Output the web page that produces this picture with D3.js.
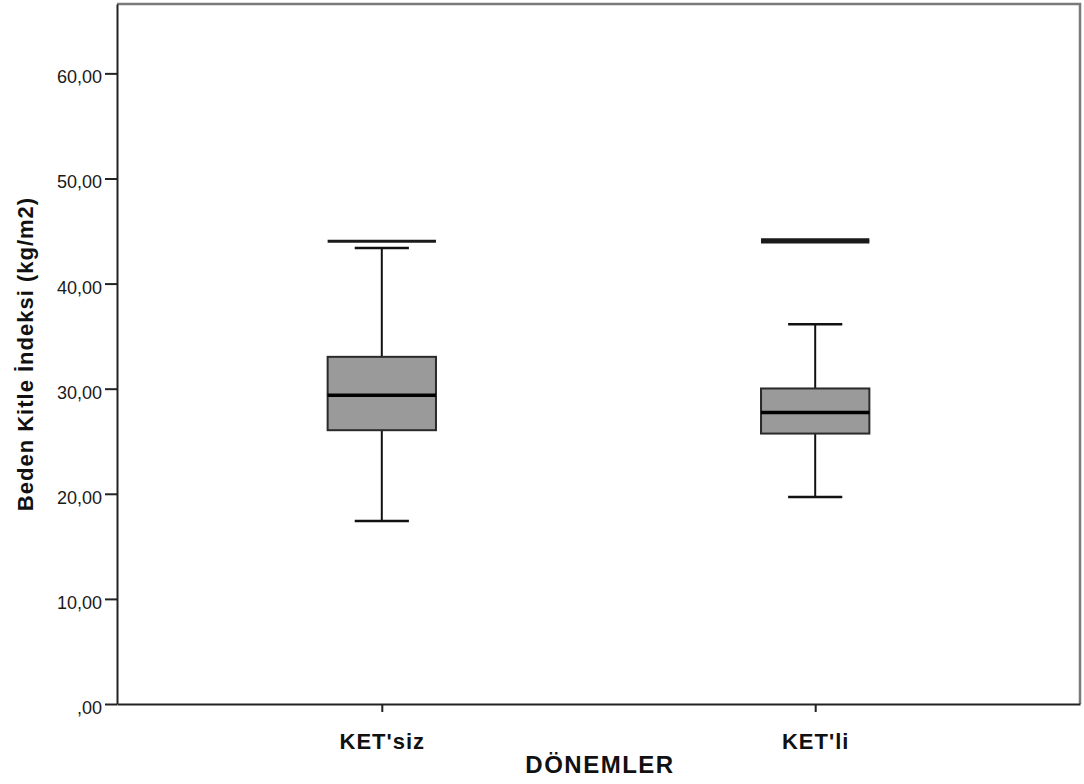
<!DOCTYPE html>
<html>
<head>
<meta charset="utf-8">
<script src="https://cdn.jsdelivr.net/npm/d3@7"></script>
<style>
  body { margin: 0; background: #fff; }
  svg { display: block; }
</style>
</head>
<body>
<svg id="svg" width="1084" height="784"></svg>
<script>
// box plot values (kg/m2)
let groups = ["KET'siz", "KET'li"];
let lowWhisker = [17.41, 19.70];
let q1 = [26.05, 25.73];
let medians = [29.38, 27.73];
let q3 = [33.03, 30.02];
let highWhisker = [43.38, 36.14];
let outliers = [[44.02], [43.95, 44.17]];
let yTicks = [0, 10, 20, 30, 40, 50, 60];

let svg = d3.select('#svg');
let padding = { t: 4, r: 4, b: 80, l: 117 };
let svgWidth = +svg.attr('width');
let svgHeight = +svg.attr('height');
let chartWidth = svgWidth - padding.l - padding.r;
let chartHeight = svgHeight - padding.t - padding.b;

let chartG = svg.append('g')
    .attr('transform', 'translate(' + [padding.l, padding.t] + ')');

let yScale = d3.scaleLinear()
    .domain([0, 66.6])
    .range([chartHeight, 0]);

let xScale = d3.scalePoint()
    .domain(groups)
    .range([0, chartWidth])
    .padding(0.611);

let boxWidth = xScale.step() * 0.25;

// frame (top and right in grey)
chartG.append('path')
    .attr('d', 'M0,0H' + chartWidth + 'V' + chartHeight)
    .attr('fill', 'none')
    .attr('stroke', '#7a7a7a')
    .attr('stroke-width', 2.5);

// y axis
let yAxis = d3.axisLeft(yScale)
    .tickValues(yTicks)
    .tickSize(12)
    .tickSizeOuter(0)
    .tickFormat((d) => d === 0 ? ',00' : d3.format('.2f')(d).replace('.', ','));

let yG = chartG.append('g').call(yAxis);
yG.select('.domain').attr('stroke', '#222').attr('stroke-width', 2);
yG.selectAll('.tick line').attr('stroke', '#222').attr('stroke-width', 2);
yG.selectAll('.tick text')
    .attr('x', -15)
    .attr('dy', '9.5')
    .attr('fill', '#1a1a1a')
    .attr('font-family', '"Liberation Sans", Arial, sans-serif')
    .attr('font-size', '18px');

// x axis
let xAxis = d3.axisBottom(xScale).tickSize(8).tickSizeOuter(0);
let xG = chartG.append('g')
    .attr('transform', 'translate(0,' + chartHeight + ')')
    .call(xAxis);
xG.select('.domain').attr('stroke', '#222').attr('stroke-width', 2);
xG.selectAll('.tick line').attr('stroke', '#222').attr('stroke-width', 2);
xG.selectAll('.tick text')
    .attr('y', 45)
    .attr('dy', 0)
    .attr('fill', '#111')
    .attr('font-family', '"Liberation Sans", Arial, sans-serif')
    .attr('font-weight', 'bold')
    .attr('font-size', '22px')
    .attr('letter-spacing', '1px');

// boxes
let boxes = chartG.selectAll('.box')
    .data(groups)
    .enter()
    .append('g')
    .attr('class', 'box')
    .attr('transform', (d) => 'translate(' + xScale(d) + ',0)');

// whisker stems
boxes.append('line')
    .attr('x1', 0).attr('x2', 0)
    .attr('y1', (d, i) => yScale(highWhisker[i]))
    .attr('y2', (d, i) => yScale(lowWhisker[i]))
    .attr('stroke', '#111')
    .attr('stroke-width', 2);

// whisker caps
[highWhisker, lowWhisker].forEach((arr) => {
    boxes.append('line')
        .attr('x1', -boxWidth / 4).attr('x2', boxWidth / 4)
        .attr('y1', (d, i) => yScale(arr[i]))
        .attr('y2', (d, i) => yScale(arr[i]))
        .attr('stroke', '#111')
        .attr('stroke-width', 2.5);
});

boxes.append('rect')
    .attr('x', -boxWidth / 2)
    .attr('width', boxWidth)
    .attr('y', (d, i) => yScale(q3[i]))
    .attr('height', (d, i) => yScale(q1[i]) - yScale(q3[i]))
    .attr('fill', '#9a9a9a')
    .attr('stroke', '#2a2a2a')
    .attr('stroke-width', 2);

boxes.append('line')
    .attr('x1', -boxWidth / 2).attr('x2', boxWidth / 2)
    .attr('y1', (d, i) => yScale(medians[i]))
    .attr('y2', (d, i) => yScale(medians[i]))
    .attr('stroke', '#000')
    .attr('stroke-width', 3.5);

// outlier marks drawn as horizontal bars
boxes.each(function (d, i) {
    d3.select(this).selectAll('.outlier')
        .data(outliers[i])
        .enter()
        .append('line')
        .attr('class', 'outlier')
        .attr('x1', -boxWidth / 2).attr('x2', boxWidth / 2)
        .attr('y1', (v) => yScale(v))
        .attr('y2', (v) => yScale(v))
        .attr('stroke', '#1a1a1a')
        .attr('stroke-width', 3);
});

// axis titles
svg.append('text')
    .attr('transform', 'translate(33,' + (padding.t + chartHeight / 2) + ') rotate(-90)')
    .attr('text-anchor', 'middle')
    .attr('fill', '#111')
    .attr('font-family', '"Liberation Sans", Arial, sans-serif')
    .attr('font-weight', 'bold')
    .attr('font-size', '22px')
    .attr('letter-spacing', '1px')
    .text('Beden Kitle İndeksi (kg/m2)');

svg.append('text')
    .attr('x', 600)
    .attr('y', 773)
    .attr('text-anchor', 'middle')
    .attr('fill', '#111')
    .attr('font-family', '"Liberation Sans", Arial, sans-serif')
    .attr('font-weight', 'bold')
    .attr('font-size', '24px')
    .attr('letter-spacing', '1.5px')
    .text('DÖNEMLER');
</script>
</body>
</html>
